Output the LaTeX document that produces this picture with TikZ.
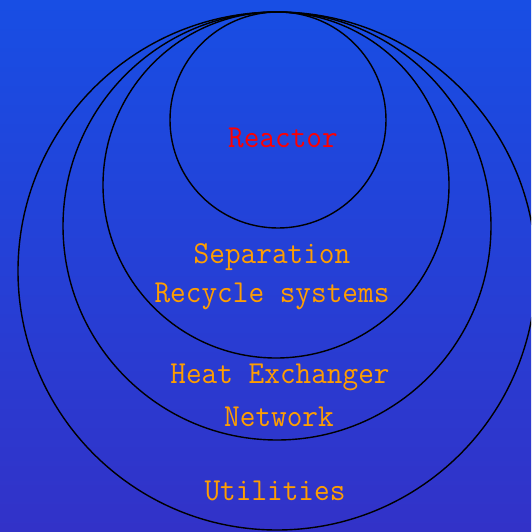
\documentclass[tikz,border=0pt]{standalone}
\usepackage{fontspec}
\newfontfamily\labfont[FakeStretch=0.95]{Latin Modern Mono}
\definecolor{bgtop}{RGB}{24,78,228}
\definecolor{bgbot}{RGB}{50,50,200}
\definecolor{lblred}{RGB}{255,0,0}
\definecolor{lblorange}{RGB}{255,158,0}
\tikzset{
  ring/.style={draw=black, line width=1.4pt},
  lbl/.style={font=\labfont\fontsize{32}{34}\selectfont, text=lblorange, inner sep=0pt}
}
\begin{document}
\begin{tikzpicture}[x=1pt,y=-1pt]
\useasboundingbox (0,0) rectangle (531,532);
\shade[top color=bgtop, bottom color=bgbot] (0,0) rectangle (531,532);
\begin{scope}
\clip (0,0) rectangle (531,532);
\draw[ring] (277,271) circle (259);
\draw[ring] (277,226) circle (214);
\draw[ring] (276,185) circle (173);
\draw[ring] (278,120) circle (108);
\end{scope}
\node[lbl, text=lblred] (reactor) at (283,138) {Reactor};
\node[lbl] (sep) at (272,257) {Separation};
\node[lbl] (rec) at (272,296) {Recycle systems};
\node[lbl] (heat) at (280,377) {Heat Exchanger};
\node[lbl] (net) at (279,417) {Network};
\node[lbl] (util) at (275,491) {Utilities};
\end{tikzpicture}
\end{document}
